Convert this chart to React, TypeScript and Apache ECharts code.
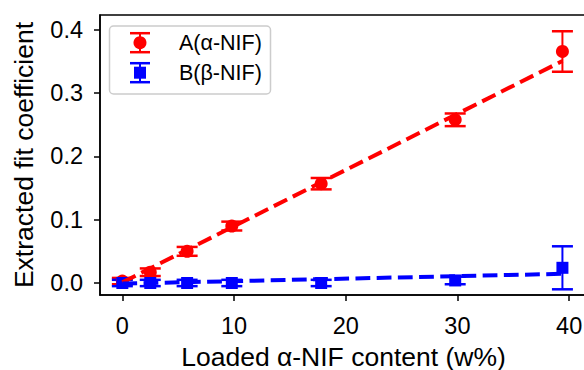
import React, { useEffect, useRef } from "react";
import * as echarts from "echarts";

const xA = [0, 2.5, 5.8, 9.8, 17.8, 29.8, 39.4];
const yA = [0.003, 0.017, 0.05, 0.09, 0.157, 0.258, 0.366];
const errA = [0.005, 0.006, 0.007, 0.007, 0.009, 0.01, 0.032];
const xB = [0, 2.5, 5.8, 9.8, 17.8, 29.8, 39.4];
const yB = [0.0, 0.0, 0.0, 0.0, 0.0, 0.004, 0.024];
const errB = [0.005, 0.005, 0.005, 0.005, 0.005, 0.006, 0.034];
const fitA = [[0, 0.001], [39.4, 0.351]];
const fitB = [[0, -0.001], [39.4, 0.0145]];
const xTicks = [0, 10, 20, 30, 40];
const yTicks = [0, 0.1, 0.2, 0.3, 0.4];
const nameA = "A(α-NIF)";
const nameB = "B(β-NIF)";

const RED = "#ff0000";
const BLUE = "#0000ff";
const FONT = "'Liberation Sans', Arial, Helvetica, sans-serif";

function errRender(color: string) {
  return (params: any, api: any) => {
    const x = api.value(0);
    const y = api.value(1);
    const e = api.value(2);
    const top = api.coord([x, y + e]);
    const bot = api.coord([x, y - e]);
    const hw = 10.5;
    return {
      type: "group",
      children: [
        { type: "line", shape: { x1: top[0], y1: top[1], x2: bot[0], y2: bot[1] }, style: { stroke: color, lineWidth: 2 } },
        { type: "line", shape: { x1: top[0] - hw, y1: top[1], x2: top[0] + hw, y2: top[1] }, style: { stroke: color, lineWidth: 2.5 } },
        { type: "line", shape: { x1: bot[0] - hw, y1: bot[1], x2: bot[0] + hw, y2: bot[1] }, style: { stroke: color, lineWidth: 2.5 } },
      ],
    };
  };
}

function legendIcon(cx: number, cy: number, color: string, square: boolean) {
  const hw = 10;
  const h = 9.5;
  const kids: any[] = [
    { type: "line", shape: { x1: cx, y1: cy - h, x2: cx, y2: cy + h }, style: { stroke: color, lineWidth: 2 } },
    { type: "line", shape: { x1: cx - hw, y1: cy - h, x2: cx + hw, y2: cy - h }, style: { stroke: color, lineWidth: 2.5 } },
    { type: "line", shape: { x1: cx - hw, y1: cy + h, x2: cx + hw, y2: cy + h }, style: { stroke: color, lineWidth: 2.5 } },
  ];
  if (square) {
    kids.push({ type: "rect", shape: { x: cx - 6, y: cy - 6, width: 12, height: 12 }, style: { fill: color } });
  } else {
    kids.push({ type: "circle", shape: { cx, cy, r: 6.5 }, style: { fill: color } });
  }
  return kids;
}

export default function App() {
  const ref = useRef<HTMLDivElement>(null);
  useEffect(() => {
    if (!ref.current) return;
    const chart = echarts.init(ref.current, null, { renderer: "svg" });
    const axisLine = { show: true, onZero: false, lineStyle: { color: "#000", width: 1.5 } };
    const axisTick = { show: true, inside: false, length: 6, lineStyle: { color: "#000", width: 1.5 } };
    chart.setOption({
      animation: false,
      backgroundColor: "#fff",
      textStyle: { fontFamily: FONT },
      grid: {
        left: 100, top: 15, width: 487, height: 280,
        outerBoundsMode: "none", containLabel: false,
        show: true, borderColor: "#000", borderWidth: 1.5, backgroundColor: "transparent",
      },
      xAxis: {
        type: "value",
        min: -2.0,
        max: 41.6,
        axisLine,
        axisTick: { ...axisTick, customValues: xTicks },
        axisLabel: { customValues: xTicks, color: "#000", fontSize: 23.5, fontFamily: FONT, margin: 19 },
        splitLine: { show: false },
        name: "Loaded α-NIF content (w%)",
        nameLocation: "middle",
        nameGap: 48,
        nameTextStyle: { color: "#000", fontSize: 26.5, fontFamily: FONT },
      },
      yAxis: {
        type: "value",
        min: -0.019,
        max: 0.4237,
        axisLine,
        axisTick: { ...axisTick, customValues: yTicks },
        axisLabel: { customValues: yTicks, color: "#000", fontSize: 23.5, fontFamily: FONT, margin: 17, formatter: (v: number) => v.toFixed(1) },
        splitLine: { show: false },
        name: "Extracted fit coefficient",
        nameLocation: "middle",
        nameGap: 63,
        nameRotate: 90,
        nameTextStyle: { color: "#000", fontSize: 26.5, fontFamily: FONT },
      },
      series: [
        { type: "line", data: fitA, symbol: "none", lineStyle: { color: RED, width: 4, type: [14.8, 6.4] }, silent: true },
        { type: "custom", name: nameA, data: xA.map((x, i) => [x, yA[i], errA[i]]), renderItem: errRender(RED), encode: { x: 0, y: 1 } },
        { type: "scatter", name: nameA, data: xA.map((x, i) => [x, yA[i]]), symbol: "circle", symbolSize: 13, itemStyle: { color: RED, opacity: 1 } },
        { type: "line", data: fitB, symbol: "none", lineStyle: { color: BLUE, width: 4, type: [14.8, 6.4] }, silent: true },
        { type: "custom", name: nameB, data: xB.map((x, i) => [x, yB[i], errB[i]]), renderItem: errRender(BLUE), encode: { x: 0, y: 1 } },
        { type: "scatter", name: nameB, data: xB.map((x, i) => [x, yB[i]]), symbol: "rect", symbolSize: 12, itemStyle: { color: BLUE, opacity: 1 } },
      ],
      graphic: [
        {
          type: "group",
          z: 100,
          children: [
            { type: "rect", shape: { x: 109.5, y: 26, width: 161, height: 68, r: 4 }, style: { fill: "rgba(255,255,255,0.8)", stroke: "#cccccc", lineWidth: 1.5 } },
            ...legendIcon(140, 42.7, RED, false),
            ...legendIcon(140, 72.7, BLUE, true),
            { type: "text", x: 179, y: 42.7, style: { text: nameA, fill: "#000", fontSize: 21.5, fontFamily: FONT, verticalAlign: "middle", align: "left" } },
            { type: "text", x: 179, y: 72.7, style: { text: nameB, fill: "#000", fontSize: 21.5, fontFamily: FONT, verticalAlign: "middle", align: "left" } },
          ],
        },
      ],
    });
    return () => chart.dispose();
  }, []);
  return <div ref={ref} style={{ position: "absolute", left: 0, top: 0, width: 584, height: 370 }} />;
}
